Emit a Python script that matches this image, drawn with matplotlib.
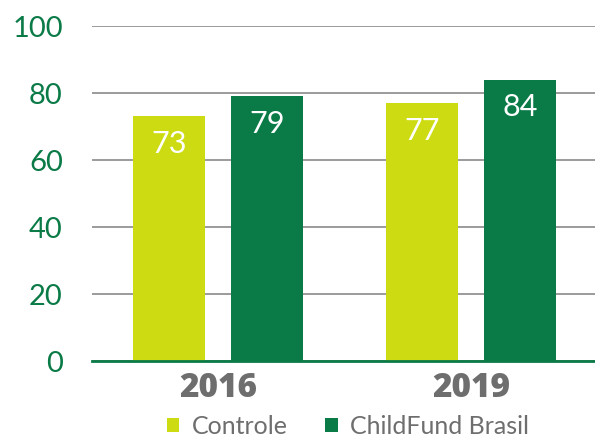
import matplotlib.pyplot as plt
import numpy as np

years = ["2016", "2019"]
controle = [73, 77]
childfund = [79, 84]
series_names = ["Controle", "ChildFund Brasil"]
yticks = [0, 20, 40, 60, 80, 100]

light = "#cddc12"
dark = "#0a7a47"
grey = "#6e6e6e"

plt.rcParams['font.family'] = ['Lato', 'DejaVu Sans']

fig = plt.figure(figsize=(5.95, 4.43), dpi=100)
ax = fig.add_axes([0.1546, 0.185, 0.8454, 0.7563])

x = np.arange(len(years))
w = 0.285
off = 0.194
b1 = ax.bar(x - off, controle, w, color=light, label=series_names[0], zorder=3)
b2 = ax.bar(x + off, childfund, w, color=dark, label=series_names[1], zorder=3)

for bars in (b1, b2):
    for r in bars:
        ax.annotate(f"{r.get_height():.0f}", (r.get_x() + r.get_width() / 2, r.get_height()),
                    xytext=(0, -20), textcoords="offset points", ha="center", va="center",
                    color="white", fontsize=22, zorder=4)

ax.set_xlim(-0.498, 1.49)
ax.set_ylim(0, 100)
ax.set_yticks(yticks)
ax.yaxis.grid(True, color="#8a8a8a", linewidth=1.2, zorder=0)
ax.set_axisbelow(True)
ax.tick_params(axis="y", length=0, pad=21, labelsize=21, labelcolor=dark)
ax.set_xticks(x)
ax.set_xticklabels(years, fontsize=24, fontweight="heavy", color=grey,
                   family=["Open Sans", "DejaVu Sans"])
ax.tick_params(axis="x", length=0, pad=7)

for s in ["top", "right", "left"]:
    ax.spines[s].set_visible(False)
ax.spines["bottom"].set_color(dark)
ax.spines["bottom"].set_linewidth(2)
ax.spines["bottom"].set_zorder(5)

leg = fig.legend(loc="lower center", bbox_to_anchor=(0.585, -0.04), ncol=2, frameon=False,
                 handlelength=0.5, handleheight=0.5, columnspacing=1.5,
                 handletextpad=0.5, prop={"size": 18})
for t in leg.get_texts():
    t.set_color(grey)

fig.savefig("out.png", dpi=100)
